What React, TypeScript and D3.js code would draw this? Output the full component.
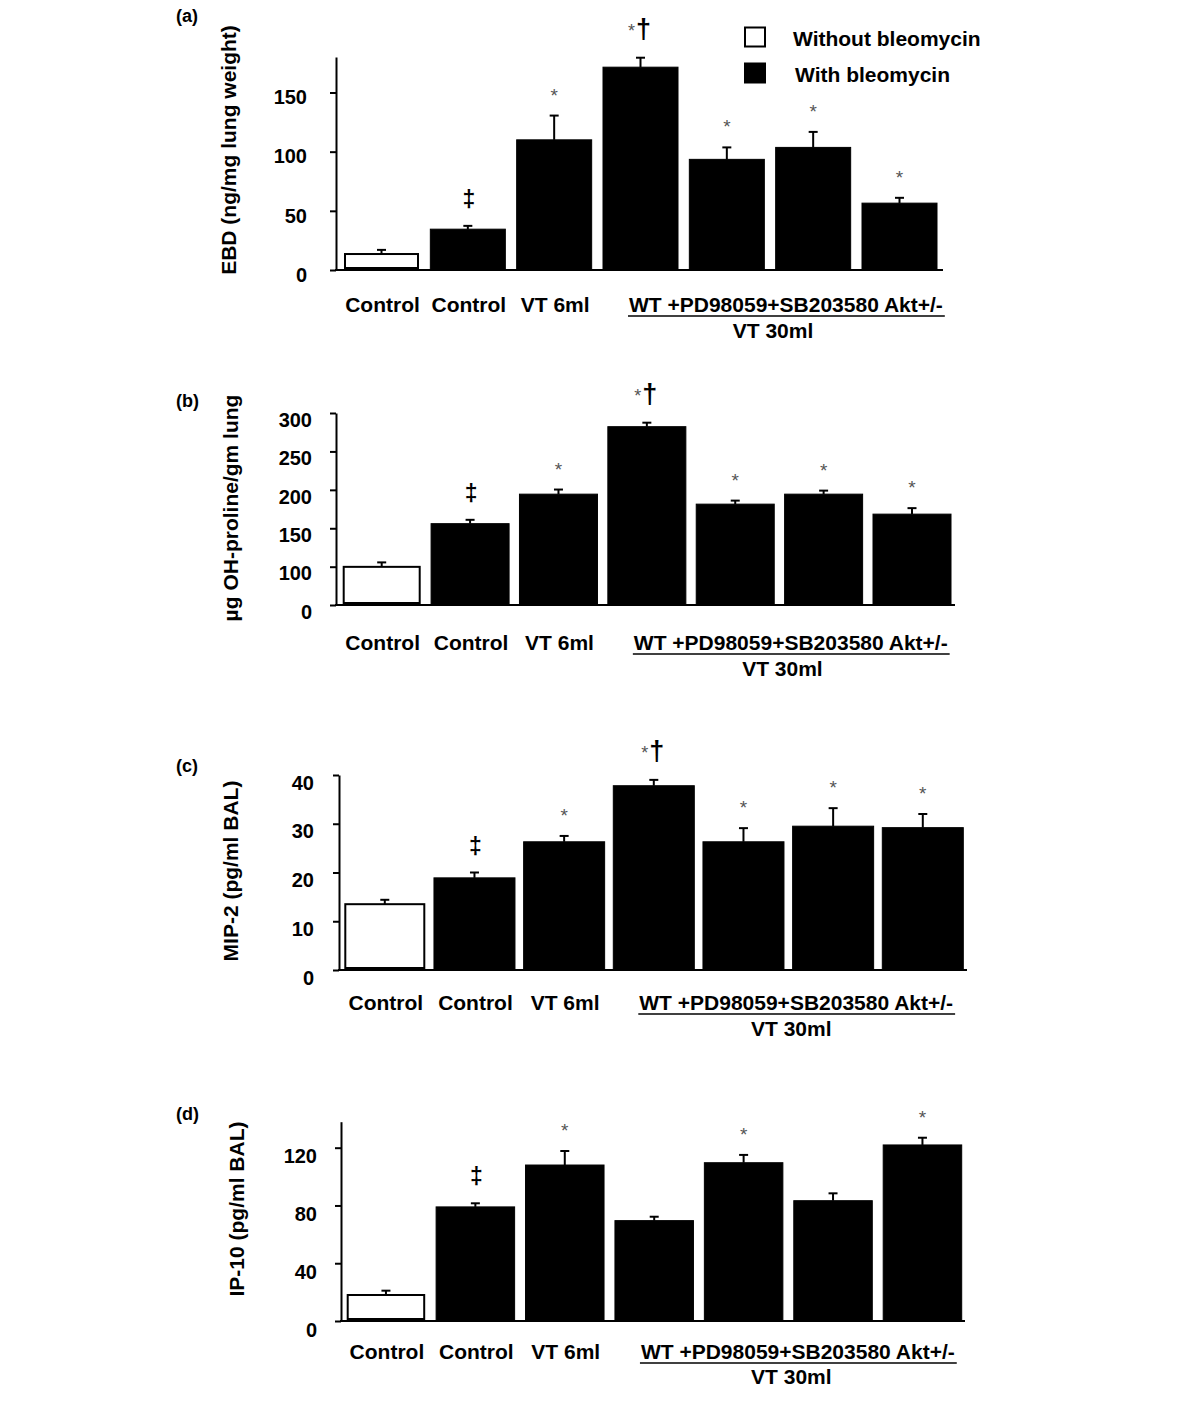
import React, { useEffect, useRef } from "react";
import * as d3 from "d3";

// ---------------- data ----------------
const categories = ["Control", "Control", "VT 6ml", "WT", "+PD98059", "+SB203580", "Akt+/-"];
const withBleomycin = [false, true, true, true, true, true, true];
const groupLabel = "WT +PD98059+SB203580 Akt+/-";
const groupSubLabel = "VT 30ml";
const legendLabels = ["Without bleomycin", "With bleomycin"];

// (a) EBD
const ebdValues = [13.5, 34.5, 110, 171.4, 93.5, 103.6, 56.5];
const ebdErrors = [3.5, 2.8, 20.5, 8, 10.1, 13.1, 4.5];
const ebdMarks = ["", "‡", "*", "*†", "*", "*", "*"];
const ebdTicks = [0, 50, 100, 150];

// (b) hydroxyproline
const hypValues = [99.6, 156, 194.4, 282.2, 181.4, 194.4, 168.4];
const hypErrors = [6, 5, 6, 5.2, 4.6, 4.6, 7.8];
const hypMarks = ["", "‡", "*", "*†", "*", "*", "*"];
const hypTicks = [0, 100, 150, 200, 250, 300];

// (c) MIP-2
const mipValues = [13.5, 18.9, 26.3, 37.8, 26.3, 29.5, 29.2];
const mipErrors = [0.9, 1.1, 1.2, 1.2, 2.8, 3.7, 2.8];
const mipMarks = ["", "‡", "*", "*†", "*", "*", "*"];
const mipTicks = [0, 10, 20, 30, 40];

// (d) IP-10
const ipValues = [18, 79, 108, 69.5, 109.6, 83.3, 121.9];
const ipErrors = [3, 2.5, 9.7, 2.7, 5.4, 5.1, 5];
const ipMarks = ["", "‡", "*", "", "*", "", "*"];
const ipTicks = [0, 40, 80, 120];

// ---------------- layout ----------------
const FONT = "'Liberation Sans', Arial, Helvetica, sans-serif";

interface Panel {
  letter: string;
  title: string;
  values: number[];
  errors: number[];
  marks: string[];
  ticks: number[];
  yDomain: number[];
  yRange: number[];
  axisX: number;
  axisEnd: number;
  barStart: number;
  barEnd: number;
  barWidth: number;
  letterY: number;
  titleX: number;
  titleY: number;
  tickRight: number;
  tickDy: number;
  labelY: number;
  subLabelY: number;
  legend?: boolean;
}

const panels: Panel[] = [
  {
    letter: "(a)", title: "EBD (ng/mg lung weight)",
    values: ebdValues, errors: ebdErrors, marks: ebdMarks, ticks: ebdTicks,
    yDomain: [0, 180], yRange: [270, 57],
    axisX: 336, axisEnd: 943, barStart: 344, barEnd: 937, barWidth: 75,
    letterY: 22, titleX: 236, titleY: 150, tickRight: 307, tickDy: 4,
    labelY: 312, subLabelY: 338, legend: true,
  },
  {
    letter: "(b)", title: "µg OH-proline/gm lung",
    values: hypValues, errors: hypErrors, marks: hypMarks, ticks: hypTicks,
    yDomain: [0, 100, 300], yRange: [605, 566.7, 413],
    axisX: 336, axisEnd: 955, barStart: 342.7, barEnd: 951, barWidth: 78,
    letterY: 407, titleX: 238, titleY: 508, tickRight: 312, tickDy: 6,
    labelY: 650, subLabelY: 676,
  },
  {
    letter: "(c)", title: "MIP-2 (pg/ml BAL)",
    values: mipValues, errors: mipErrors, marks: mipMarks, ticks: mipTicks,
    yDomain: [0, 40], yRange: [970, 775],
    axisX: 339, axisEnd: 967, barStart: 344.3, barEnd: 963.3, barWidth: 81,
    letterY: 772, titleX: 238, titleY: 871, tickRight: 314, tickDy: 7,
    labelY: 1010, subLabelY: 1036,
  },
  {
    letter: "(d)", title: "IP-10 (pg/ml BAL)",
    values: ipValues, errors: ipErrors, marks: ipMarks, ticks: ipTicks,
    yDomain: [0, 138], yRange: [1321, 1121.7],
    axisX: 341, axisEnd: 965, barStart: 346.7, barEnd: 961.7, barWidth: 78.5,
    letterY: 1120, titleX: 244, titleY: 1209, tickRight: 317, tickDy: 8,
    labelY: 1359, subLabelY: 1384,
  },
];

function drawPanel(svg: d3.Selection<SVGSVGElement, unknown, null, undefined>, p: Panel) {
  const g = svg.append("g");
  const n = categories.length;
  const y = d3.scaleLinear().domain(p.yDomain).range(p.yRange);
  const step = (p.barEnd - p.barStart - p.barWidth) / (n - 1);
  const pad = 1 - p.barWidth / step;
  const x = d3
    .scaleBand<number>()
    .domain(d3.range(n))
    .range([p.barStart - (pad * step) / 2, p.barEnd + (pad * step) / 2])
    .paddingInner(pad)
    .paddingOuter(pad / 2);
  const bw = x.bandwidth();
  const y0 = y(0);

  // panel letter
  g.append("text").attr("x", 176).attr("y", p.letterY).attr("font-size", 18)
    .attr("font-weight", "bold").attr("font-family", FONT).text(p.letter);

  // y title
  g.append("text")
    .attr("transform", `translate(${p.titleX},${p.titleY}) rotate(-90)`)
    .attr("text-anchor", "middle").attr("font-size", 21).attr("font-weight", "bold")
    .attr("font-family", FONT).text(p.title);

  // bars
  const idx = d3.range(n);
  g.selectAll("rect.bar").data(idx).enter().append("rect")
    .attr("class", "bar")
    .attr("x", (i) => (x(i) as number) + (withBleomycin[i] ? 0 : 1))
    .attr("y", (i) => y(p.values[i]))
    .attr("width", (i) => bw - (withBleomycin[i] ? 0 : 2))
    .attr("height", (i) => y0 - y(p.values[i]) - (withBleomycin[i] ? 0 : 2))
    .attr("fill", (i) => (withBleomycin[i] ? "#000" : "#fff"))
    .attr("stroke", "#000")
    .attr("stroke-width", (i) => (withBleomycin[i] ? 1 : 2));

  // error bars
  idx.forEach((i) => {
    const cx = (x(i) as number) + bw / 2;
    const top = y(p.values[i] + p.errors[i]);
    g.append("line").attr("x1", cx).attr("x2", cx).attr("y1", y(p.values[i]))
      .attr("y2", top).attr("stroke", "#000").attr("stroke-width", 2);
    g.append("line").attr("x1", cx - 4.5).attr("x2", cx + 4.5).attr("y1", top)
      .attr("y2", top).attr("stroke", "#000").attr("stroke-width", 2);

    // significance marks
    const m = p.marks[i];
    if (m === "*") {
      g.append("text").attr("x", cx).attr("y", top - 14).attr("text-anchor", "middle")
        .attr("font-size", 19).attr("fill", "#555").attr("font-family", FONT).text("*");
    } else if (m === "‡") {
      g.append("text").attr("x", cx + 1).attr("y", top - 19).attr("text-anchor", "middle")
        .attr("font-size", 23).attr("font-weight", "bold").attr("font-family", FONT).text("‡");
    } else if (m === "*†") {
      g.append("text").attr("x", cx - 9).attr("y", top - 21).attr("text-anchor", "middle")
        .attr("font-size", 18).attr("fill", "#555").attr("font-family", FONT).text("*");
      g.append("text").attr("x", cx + 3).attr("y", top - 20).attr("text-anchor", "middle")
        .attr("font-size", 27).attr("font-weight", "bold").attr("font-family", FONT).text("†");
    }
  });

  // y axis
  const axis = d3.axisLeft(y).tickValues(p.ticks).tickSize(6).tickSizeOuter(0)
    .tickFormat((d) => d3.format("d")(d as number));
  const ga = g.append("g").attr("transform", `translate(${p.axisX},0)`).call(axis);
  ga.select(".domain").attr("stroke", "#000").attr("stroke-width", 2);
  ga.selectAll(".tick line").attr("stroke", "#000").attr("stroke-width", 2);
  ga.selectAll(".tick text")
    .attr("x", p.tickRight - p.axisX)
    .attr("dy", `${7.2 + p.tickDy}px`)
    .attr("font-size", 20).attr("font-weight", "bold").attr("font-family", FONT)
    .attr("fill", "#000");

  // x axis line
  g.append("line").attr("x1", p.axisX - 1).attr("x2", p.axisEnd).attr("y1", y0).attr("y2", y0)
    .attr("stroke", "#000").attr("stroke-width", 2);

  // x labels (first three individually)
  [0, 1, 2].forEach((i) => {
    g.append("text").attr("x", (x(i) as number) + bw / 2 + 1).attr("y", p.labelY)
      .attr("text-anchor", "middle").attr("font-size", 21).attr("font-weight", "bold")
      .attr("font-family", FONT).text(categories[i]);
  });

  // group label
  const gx = (x(3) as number) + 26;
  const gt = g.append("text").attr("x", gx).attr("y", p.labelY).attr("font-size", 21)
    .attr("font-weight", "bold").attr("font-family", FONT).text(groupLabel);
  const len = (gt.node() as SVGTextElement).getComputedTextLength();
  g.append("line").attr("x1", gx - 1).attr("x2", gx + len + 2)
    .attr("y1", p.labelY + 4).attr("y2", p.labelY + 4).attr("stroke", "#000").attr("stroke-width", 1.5);
  const gCenter = ((x(3) as number) + (x(6) as number) + bw) / 2 + 3;
  g.append("text").attr("x", gCenter).attr("y", p.subLabelY).attr("text-anchor", "middle")
    .attr("font-size", 21).attr("font-weight", "bold").attr("font-family", FONT).text(groupSubLabel);

  // legend
  if (p.legend) {
    const ly = [27.5, 63.5];
    legendLabels.forEach((lab, k) => {
      g.append("rect").attr("x", 745).attr("y", ly[k])
        .attr("width", 20).attr("height", 19)
        .attr("fill", k === 0 ? "#fff" : "#000").attr("stroke", "#000").attr("stroke-width", 2);
      g.append("text").attr("x", k === 0 ? 793 : 795).attr("y", ly[k] + 18.5)
        .attr("font-size", 21).attr("font-weight", "bold").attr("font-family", FONT).text(lab);
    });
  }
}

export default function App() {
  const ref = useRef<SVGSVGElement | null>(null);
  useEffect(() => {
    if (!ref.current) return;
    const svg = d3.select(ref.current);
    svg.selectAll("*").remove();
    svg.append("rect").attr("width", 1200).attr("height", 1412).attr("fill", "#fff");
    panels.forEach((p) => drawPanel(svg, p));
  }, []);
  return (
    <svg
      ref={ref}
      width={1200}
      height={1412}
      style={{ position: "absolute", left: 0, top: 0, display: "block" }}
    />
  );
}
